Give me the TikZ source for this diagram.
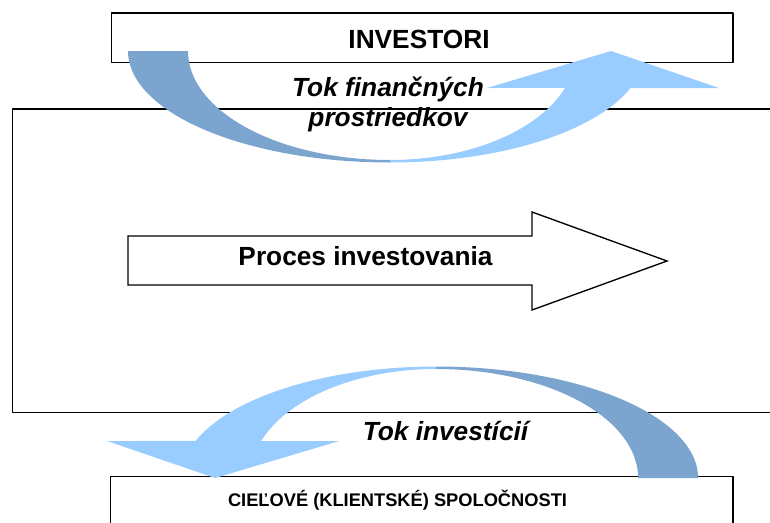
\documentclass[tikz,border=0pt]{standalone}
\usepackage{fontspec}
\setmainfont{Liberation Sans}
\usetikzlibrary{fit}
\definecolor{FlowDark}{HTML}{7BA5CE}
\definecolor{FlowLight}{HTML}{99CCFF}
\definecolor{Frame}{HTML}{000000}
\newcommand{\drawflowarrow}{%
  \path[fill=FlowDark]
    plot[domain=180:90,samples=60] ({390+262*cos(\x)},{51+111.5*sin(\x)})
    -- plot[domain=90:180,samples=60] ({390+202*cos(\x)},{51+109*sin(\x)})
    -- cycle;
  \path[fill=FlowLight]
    plot[domain=90:19.4,samples=60] ({390+255*cos(\x)},{51+111.5*sin(\x)})
    -- (719,88) -- (611,51) -- (487,88)
    -- plot[domain=19.8:90,samples=60] ({390+186*cos(\x)},{51+109*sin(\x)})
    -- cycle;%
}

\begin{document}
\begin{tikzpicture}[x=0.75pt,y=-0.75pt,line cap=round,line join=round,
    box/.style={draw=Frame,line width=1pt,inner sep=0pt},
    title/.style={font=\bfseries\fontsize{19.7}{23}\selectfont,anchor=base},
    flowlabel/.style={font=\bfseries\itshape\fontsize{19.7}{23}\selectfont,anchor=base}]
  \useasboundingbox (0,0) rectangle (770,522);
  \clip (0,0) rectangle (770,522);
  % frames
  \node[box,fit={(111.7,13) (733,62.7)}] (investors) {};
  \node[box,fit={(12.3,109) (800,412.7)}] (process) {};
  \node[box,fit={(110.7,476.7) (733,560)}] (clients) {};
  % process arrow
  \path[fill=white,draw=Frame,line width=1pt,line join=miter]
    (128,236) -- (532,236) -- (532,212) -- (667,261)
    -- (532,310) -- (532,285) -- (128,285) -- cycle;
  \node[title] (procestext) at (365.5,265) {Proces investovania};
  % curved flows
  \drawflowarrow
  \begin{scope}[rotate around={180:(413.05,264.5)}]
    \drawflowarrow
  \end{scope}
  % labels
  \node[title] (investorstext) at (419,48.3) {INVESTORI};
  \node[flowlabel] (fundsfirst) at (388,96.7) {Tok finančných};
  \node[flowlabel] (fundssecond) at (388,126.7) {prostriedkov};
  \node[flowlabel] (investflow) at (445.5,440) {Tok investícií};
  \node[font=\bfseries\fontsize{13.7}{16}\selectfont,anchor=base]
    (clientstext) at (397.5,506.7) {CIEĽOVÉ (KLIENTSKÉ) SPOLOČNOSTI};
\end{tikzpicture}
\end{document}
